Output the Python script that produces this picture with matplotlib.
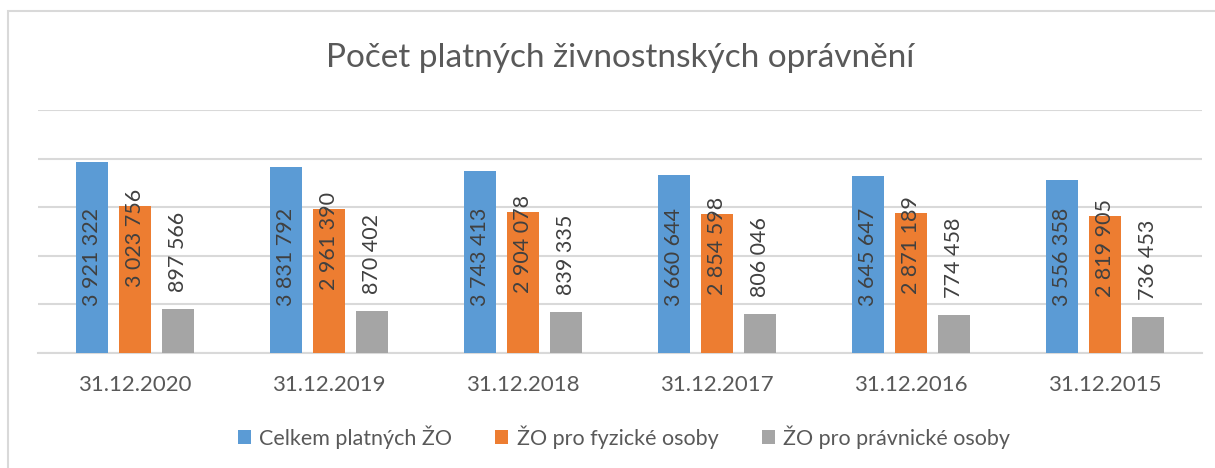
import matplotlib
matplotlib.use("Agg")
import matplotlib.pyplot as plt
import numpy as np
from matplotlib.patches import Rectangle

plt.rcParams['font.family'] = ['Lato', 'DejaVu Sans']

categories = ["31.12.2020", "31.12.2019", "31.12.2018", "31.12.2017", "31.12.2016", "31.12.2015"]
series_names = ["Celkem platných ŽO", "ŽO pro fyzické osoby", "ŽO pro právnické osoby"]
celkem = [3921322, 3831792, 3743413, 3660644, 3645647, 3556358]
fyzicke = [3023756, 2961390, 2904078, 2854598, 2871189, 2819905]
pravnicke = [897566, 870402, 839335, 806046, 774458, 736453]
title = "Počet platných živnostnských oprávnění"

colors = ["#5B9BD5", "#ED7D31", "#A5A5A5"]
text_col = "#595959"
label_col = "#404040"

W, H = 1215, 468
fig = plt.figure(figsize=(W / 100, H / 100), dpi=100)
fig.patches.append(Rectangle((8 / W, -0.1), 1.2, 1 - 11 / H + 0.1, transform=fig.transFigure,
                             fill=False, edgecolor="#D9D9D9", linewidth=1.5))

ax = fig.add_axes([38 / W, 1 - 353 / H, (1202 - 38) / W, (353 - 110) / H])
x = np.arange(len(categories))
bw = 0.17
step = 0.2216

def fmt(v):
    return f"{v:,}".replace(",", " ")

bars = []
for i, (vals, c) in enumerate(zip([celkem, fyzicke, pravnicke], colors)):
    b = ax.bar(x + (i - 1) * step, vals, width=bw, color=c, label=series_names[i], zorder=3)
    bars.append(b)

fs_lab = 15.5
for rect, v in zip(bars[0], celkem):
    ax.text(rect.get_x() + rect.get_width() / 2, 1.98e6, fmt(v), rotation=90,
            ha='center', va='center', color=label_col, fontsize=fs_lab, zorder=4)
for rect, v in zip(bars[1], fyzicke):
    ax.annotate(fmt(v), (rect.get_x() + rect.get_width() / 2, v), xytext=(0, -32),
                textcoords='offset pixels', rotation=90, ha='center', va='center',
                color=label_col, fontsize=fs_lab, zorder=4)
for rect, v in zip(bars[2], pravnicke):
    ax.annotate(fmt(v), (rect.get_x() + rect.get_width() / 2, v), xytext=(0, 17),
                textcoords='offset pixels', rotation=90, ha='center', va='bottom',
                color=label_col, fontsize=fs_lab, zorder=4)

ax.set_xlim(-0.5, len(categories) - 0.5)
ax.set_ylim(0, 5e6)
ax.set_yticks(np.arange(0, 5.01e6, 1e6))
ax.yaxis.grid(True, color="#D9D9D9", linewidth=1.5, zorder=0)
ax.set_yticklabels([])
ax.tick_params(axis='y', length=0)
ax.set_xticks(x)
ax.set_xticklabels(categories, fontsize=16, color=text_col)
ax.tick_params(axis='x', length=0, pad=16)
for s in ['top', 'right', 'left']:
    ax.spines[s].set_visible(False)
ax.spines['bottom'].set_color("#D9D9D9")
ax.spines['bottom'].set_linewidth(1.5)

fig.text(620 / W, 1 - 58 / H, title, ha='center', va='center', fontsize=24,
         color=text_col)

fig.legend(loc='center', bbox_to_anchor=(624 / W, 1 - 437 / H), ncol=3, frameon=False,
           fontsize=15.5, handlelength=0.6, handleheight=0.6, handletextpad=0.4,
           columnspacing=2.0, labelcolor=text_col)

fig.savefig("out.png", dpi=100)
